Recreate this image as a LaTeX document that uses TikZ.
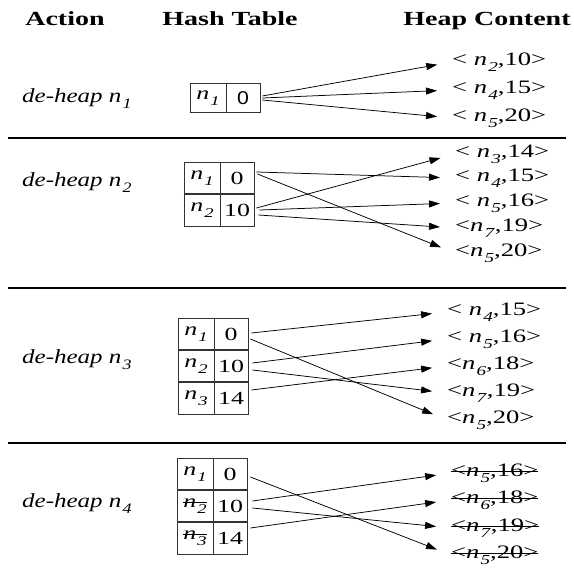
\documentclass[tikz,border=0pt]{standalone}
\usepackage{graphicx}
\usepackage{fontspec}
\setmainfont{Liberation Serif}[FakeStretch=1.4]
\newfontfamily\actfont{Liberation Serif}[FakeStretch=1.25]
\newfontfamily\zerofont{Liberation Sans}[FakeStretch=1.15]
\usetikzlibrary{arrows.meta}
\usetikzlibrary{positioning}

\newcommand{\nn}[1]{\textit{n}\kern0.06em\raisebox{-0.3em}{\scalebox{0.72}{\textit{#1}}}}
\newsavebox{\gonebox}
\newcommand{\gone}[1]{\sbox\gonebox{#1}\rlap{\rule[0.27em]{\wd\gonebox}{0.7pt}}\usebox\gonebox}

\tikzset{
  head/.style={font=\fontsize{20}{24}\selectfont\bfseries, anchor=base},
  act/.style={font=\actfont\fontsize{20}{24}\selectfont\itshape, anchor=base west, inner sep=0pt},
  item/.style={font=\fontsize{19}{22}\selectfont, anchor=west, inner sep=0pt},
  ncell/.style={draw=black!80, line width=0.8pt, minimum width=36pt, minimum height=32pt,
    inner sep=0pt, font=\fontsize{18.5}{22}\selectfont},
  vcell/.style={ncell, minimum width=34pt},
  sep/.style={line width=2.4pt},
  rowline/.style={line width=1.6pt, draw=black!80},
  arr/.style={-{Triangle[length=11pt,width=7pt]}, line width=0.75pt, shorten >=15pt}
}

\begin{document}
\begin{tikzpicture}[x=1pt,y=-1pt]
\useasboundingbox (0,0) rectangle (574,569);
% headers
\node[head] (hAct) at (65,26) {Action};
\node[head] (hHash) at (230,26) {Hash Table};
\node[head] (hHeap) at (487,26) {Heap Content};
% separators
\draw[sep] (8,138) -- (566,138);
\draw[sep] (8,288) -- (566,288);
\draw[sep] (8,443) -- (566,443);
%
% de-heap n1
\node[act] (a1) at (22,103) {de-heap \nn{1}};
\node[ncell,minimum height=29pt] (b1n1) at (208,98) {\nn{1}};
\node[vcell,minimum height=29pt] (b1v1) at (243,98) {\zerofont 0};
\node[item] (i1a) at (452,62) {< \nn{2},10>};
\node[item] (i1b) at (452,90) {< \nn{4},15>};
\node[item] (i1c) at (452,118) {< \nn{5},20>};
\draw
  ([xshift=2pt,yshift=2pt]b1v1.east) edge [arr] (i1a.west)
  ([xshift=2pt]b1v1.east) edge [arr] (i1b.west)
  ([xshift=2pt,yshift=-2pt]b1v1.east) edge [arr] (i1c.west);
%
% de-heap n2
\node[act] (a2) at (22,187) {de-heap \nn{2}};
\node[ncell] (b2n1) at (202,178) {\nn{1}};
\node[vcell] (b2v1) at (237,178) {0};
\node[ncell] (b2n2) at (202,210) {\nn{2}};
\node[vcell] (b2v2) at (237,210) {10};
\draw[rowline] (b2n2.north west) -- (b2v2.north east);
\node[item] (i2a) at (455,154) {< \nn{3},14>};
\node[item] (i2b) at (455,178) {< \nn{4},15>};
\node[item] (i2c) at (455,203) {< \nn{5},16>};
\node[item] (i2d) at (455,228) {<\nn{7},19>};
\node[item] (i2e) at (455,253) {<\nn{5},20>};
\draw
  ([xshift=2pt,yshift=6pt]b2v1.east) edge [arr] (i2b.west)
  ([xshift=3pt,yshift=4pt]b2v1.east) edge [arr] (i2e.west)
  ([xshift=2pt,yshift=2pt]b2v2.east) edge [arr] (i2a.west)
  ([xshift=5pt]b2v2.east) edge [arr] (i2c.west)
  ([xshift=4pt,yshift=-5pt]b2v2.east) edge [arr] (i2d.west);
%
% de-heap n3
\node[act] (a3) at (22,364) {de-heap \nn{3}};
\node[ncell] (b3n1) at (196,334) {\nn{1}};
\node[vcell] (b3v1) at (231,334) {0};
\node[ncell] (b3n2) at (196,366) {\nn{2}};
\node[vcell] (b3v2) at (231,366) {10};
\node[ncell] (b3n3) at (196,398) {\nn{3}};
\node[vcell] (b3v3) at (231,398) {14};
\draw[rowline] (b3n2.north west) -- (b3v2.north east);
\draw[rowline] (b3n3.north west) -- (b3v3.north east);
\node[item] (i3a) at (447,312) {< \nn{4},15>};
\node[item] (i3b) at (447,339) {< \nn{5},16>};
\node[item] (i3c) at (447,366) {<\nn{6},18>};
\node[item] (i3d) at (447,393) {<\nn{7},19>};
\node[item] (i3e) at (447,420) {<\nn{5},20>};
\draw
  ([xshift=3pt,yshift=1pt]b3v1.east) edge [arr] (i3a.west)
  ([xshift=2pt,yshift=-5pt]b3v1.east) edge [arr] (i3e.west)
  ([xshift=4pt,yshift=3pt]b3v2.east) edge [arr] (i3b.west)
  ([xshift=4pt,yshift=-4pt]b3v2.east) edge [arr] (i3d.west)
  ([xshift=3pt,yshift=8pt]b3v3.east) edge [arr] (i3c.west);
%
% de-heap n4
\node[act] (a4) at (22,508) {de-heap \nn{4}};
\node[ncell] (b4n1) at (195,474) {\nn{1}};
\node[vcell] (b4v1) at (230,474) {0};
\node[ncell] (b4n2) at (195,506) {\gone{\nn{2}}};
\node[vcell] (b4v2) at (230,506) {10};
\node[ncell] (b4n3) at (195,538) {\gone{\nn{3}}};
\node[vcell] (b4v3) at (230,538) {14};
\draw[rowline] (b4n2.north west) -- (b4v2.north east);
\draw[rowline] (b4n3.north west) -- (b4v3.north east);
\node[item] (i4a) at (451,473) {\gone{<\nn{5},16>}};
\node[item] (i4b) at (451,500) {\gone{<\nn{6},18>}};
\node[item] (i4c) at (451,528) {\gone{<\nn{7},19>}};
\node[item] (i4d) at (451,555) {\gone{<\nn{5},20>}};
\draw
  ([xshift=3pt,yshift=-3pt]b4v1.east) edge [arr] (i4d.west)
  ([xshift=5pt,yshift=5pt]b4v2.east) edge [arr] (i4a.west)
  ([xshift=5pt,yshift=-2pt]b4v2.east) edge [arr] (i4c.west)
  ([xshift=3pt,yshift=10pt]b4v3.east) edge [arr] (i4b.west);
\end{tikzpicture}
\end{document}
